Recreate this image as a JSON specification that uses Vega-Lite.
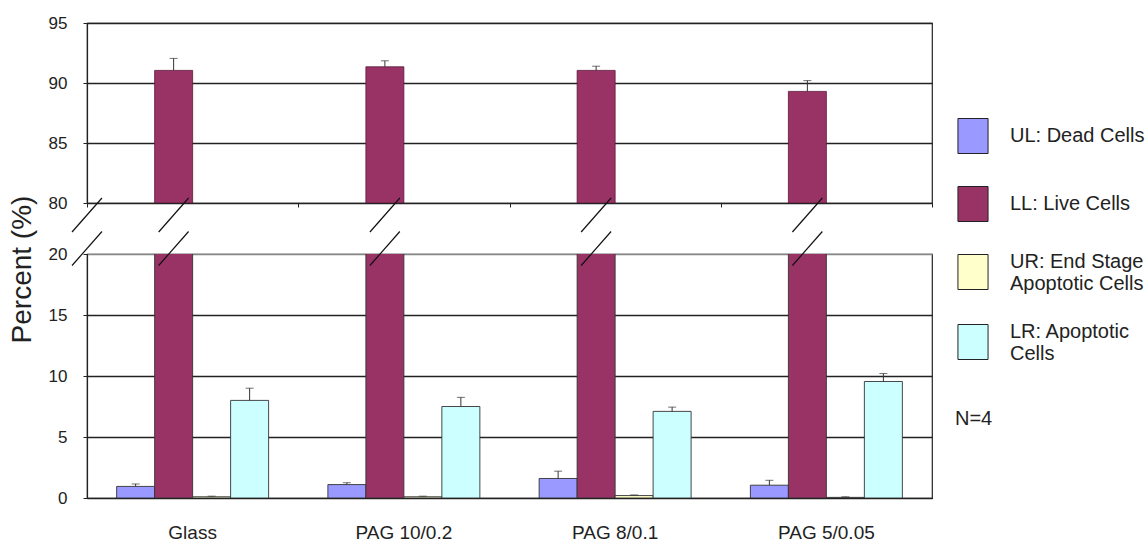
{
  "$schema": "https://vega.github.io/schema/vega-lite/v6.json",
  "padding": {"top": 13, "left": 7, "right": 0, "bottom": 0},
  "background": "white",
  "bounds": "flush",
  "spacing": 51,
  "config": {
    "font": "Liberation Sans",
    "view": {"stroke": "#222", "strokeWidth": 1.2},
    "axis": {"labelFont": "Liberation Sans", "labelFontSize": 17, "labelColor": "#222", "titleFont": "Liberation Sans", "titleFontWeight": "normal", "titleColor": "#222", "domainColor": "#222", "tickColor": "#222", "domainWidth": 1.2}
  },
  "datasets": {
    "bars": [
      {"group": "Glass", "series": "UL: Dead Cells", "value": 0.95, "upper": 1.15},
      {"group": "Glass", "series": "LL: Live Cells", "value": 91.05, "upper": 92.05},
      {"group": "Glass", "series": "UR: End Stage Apoptotic Cells", "value": 0.1, "upper": 0.15},
      {"group": "Glass", "series": "LR: Apoptotic Cells", "value": 8.0, "upper": 9.0},
      {"group": "PAG 10/0.2", "series": "UL: Dead Cells", "value": 1.1, "upper": 1.25},
      {"group": "PAG 10/0.2", "series": "LL: Live Cells", "value": 91.35, "upper": 91.85},
      {"group": "PAG 10/0.2", "series": "UR: End Stage Apoptotic Cells", "value": 0.1, "upper": 0.15},
      {"group": "PAG 10/0.2", "series": "LR: Apoptotic Cells", "value": 7.5, "upper": 8.25},
      {"group": "PAG 8/0.1", "series": "UL: Dead Cells", "value": 1.6, "upper": 2.2},
      {"group": "PAG 8/0.1", "series": "LL: Live Cells", "value": 91.05, "upper": 91.4},
      {"group": "PAG 8/0.1", "series": "UR: End Stage Apoptotic Cells", "value": 0.2, "upper": 0.25},
      {"group": "PAG 8/0.1", "series": "LR: Apoptotic Cells", "value": 7.1, "upper": 7.45},
      {"group": "PAG 5/0.05", "series": "UL: Dead Cells", "value": 1.05, "upper": 1.45},
      {"group": "PAG 5/0.05", "series": "LL: Live Cells", "value": 89.3, "upper": 90.2},
      {"group": "PAG 5/0.05", "series": "UR: End Stage Apoptotic Cells", "value": 0.05, "upper": 0.1},
      {"group": "PAG 5/0.05", "series": "LR: Apoptotic Cells", "value": 9.55, "upper": 10.2}
    ]
  },
  "vconcat": [
    {
      "width": 845,
      "height": 180,
      "data": {"name": "bars"},
      "transform": [{"filter": "datum.series == 'LL: Live Cells'"}],
      "encoding": {
        "x": {"field": "group", "type": "nominal", "sort": null, "scale": {"paddingInner": 0, "paddingOuter": 0}, "axis": {"title": null, "labels": false, "ticks": true, "tickBand": "extent", "tickSize": 4, "domain": false, "grid": false}},
        "xOffset": {"field": "series", "type": "nominal", "scale": {"domain": ["UL: Dead Cells", "LL: Live Cells", "UR: End Stage Apoptotic Cells", "LR: Apoptotic Cells"], "paddingInner": 0, "paddingOuter": 0.78}}
      },
      "layer": [
        {
          "mark": {"type": "bar", "clip": true, "stroke": "#5a1838", "strokeWidth": 0.8},
          "encoding": {
            "y": {"field": "value", "type": "quantitative", "scale": {"domain": [80, 95], "zero": false, "nice": false}, "axis": {"values": [80, 85, 90, 95], "grid": true, "gridColor": "#222", "gridWidth": 1.3, "tickSize": 4, "labelPadding": 16, "title": null}},
            "y2": {"datum": 80},
            "color": {"field": "series", "type": "nominal", "scale": {"domain": ["UL: Dead Cells", "LL: Live Cells", "UR: End Stage Apoptotic Cells", "LR: Apoptotic Cells"], "range": ["#9999FF", "#993366", "#FFFFCC", "#CCFFFF"]},
              "legend": {"orient": "none", "legendX": 868, "legendY": 95, "padding": 0, "title": "N=4", "titleOrient": "bottom", "titleAnchor": "start", "titleFontSize": 20, "titleFontWeight": "normal", "titleFont": "Liberation Sans", "titleColor": "#222", "titlePadding": 45, "labelFontSize": 20, "labelFont": "Liberation Sans", "labelColor": "#222", "labelOffset": 19, "symbolType": "M-0.86,-1H0.86V1H-0.86Z", "symbolSize": 1225, "symbolStrokeColor": "#222", "symbolStrokeWidth": 1, "rowPadding": 28, "labelLimit": 200, "labelExpr": "datum.label == 'UR: End Stage Apoptotic Cells' ? ['UR: End Stage', 'Apoptotic Cells'] : datum.label == 'LR: Apoptotic Cells' ? ['LR: Apoptotic', 'Cells'] : datum.label",
                "encode": {"labels": {"update": {"dy": {"signal": "indexof(datum.value, 'Apoptotic') >= 0 ? -10 : 0"}}}}}}
          }
        },
        {
          "mark": {"type": "rule", "color": "#333", "strokeWidth": 1},
          "encoding": {"y": {"field": "value", "type": "quantitative"}, "y2": {"field": "upper"}}
        },
        {
          "mark": {"type": "tick", "orient": "horizontal", "size": 8, "thickness": 1, "color": "#333"},
          "encoding": {"y": {"field": "upper", "type": "quantitative"}}
        },
        {
          "mark": {"type": "point", "shape": "M-0.88,1L0.88,-1", "filled": false, "stroke": "#111", "strokeWidth": 1.2, "size": 1156, "opacity": 1, "dx": -5},
          "encoding": {"y": {"datum": 79}}
        },
        {
          "transform": [{"filter": "datum.group == 'Glass'"}],
          "mark": {"type": "point", "shape": "M-0.88,1L0.88,-1", "filled": false, "stroke": "#111", "strokeWidth": 1.2, "size": 1156, "opacity": 1, "dx": 2},
          "encoding": {
            "x": {"field": "group", "type": "nominal", "sort": null, "bandPosition": 0},
            "xOffset": {"value": 0},
            "y": {"datum": 79}
          }
        }
      ]
    },
    {
      "width": 845,
      "height": 244,
      "data": {"name": "bars"},
      "encoding": {
        "x": {"field": "group", "type": "nominal", "sort": null, "scale": {"paddingInner": 0, "paddingOuter": 0}, "axis": {"title": null, "ticks": false, "labelPadding": 25, "labelAngle": 0, "labelFontSize": 19, "domain": true}},
        "xOffset": {"field": "series", "type": "nominal", "scale": {"domain": ["UL: Dead Cells", "LL: Live Cells", "UR: End Stage Apoptotic Cells", "LR: Apoptotic Cells"], "paddingInner": 0, "paddingOuter": 0.78}}
      },
      "layer": [
        {
          "mark": {"type": "bar", "clip": true, "stroke": "#333", "strokeWidth": 0.9},
          "encoding": {
            "y": {"field": "value", "type": "quantitative", "scale": {"domain": [0, 20], "nice": false}, "axis": {"values": [0, 5, 10, 15, 20], "grid": true, "gridColor": {"condition": {"test": "datum.value == 20", "value": "#888"}, "value": "#222"}, "gridWidth": 1.3, "tickSize": 4, "labelPadding": 16, "title": "Percent (%)", "titleFontSize": 28, "titleAngle": 270, "titleX": -65, "titleY": 15, "titleAlign": "center", "titleBaseline": "middle"}},
            "color": {"field": "series", "type": "nominal", "scale": {"domain": ["UL: Dead Cells", "LL: Live Cells", "UR: End Stage Apoptotic Cells", "LR: Apoptotic Cells"], "range": ["#9999FF", "#993366", "#FFFFCC", "#CCFFFF"]},
              "legend": {"orient": "none", "legendX": 868, "legendY": 95, "padding": 0, "title": "N=4", "titleOrient": "bottom", "titleAnchor": "start", "titleFontSize": 20, "titleFontWeight": "normal", "titleFont": "Liberation Sans", "titleColor": "#222", "titlePadding": 45, "labelFontSize": 20, "labelFont": "Liberation Sans", "labelColor": "#222", "labelOffset": 19, "symbolType": "M-0.86,-1H0.86V1H-0.86Z", "symbolSize": 1225, "symbolStrokeColor": "#222", "symbolStrokeWidth": 1, "rowPadding": 28, "labelLimit": 200, "labelExpr": "datum.label == 'UR: End Stage Apoptotic Cells' ? ['UR: End Stage', 'Apoptotic Cells'] : datum.label == 'LR: Apoptotic Cells' ? ['LR: Apoptotic', 'Cells'] : datum.label",
                "encode": {"labels": {"update": {"dy": {"signal": "indexof(datum.value, 'Apoptotic') >= 0 ? -10 : 0"}}}}}}
          }
        },
        {
          "transform": [{"filter": "datum.series != 'LL: Live Cells'"}],
          "mark": {"type": "rule", "color": "#333", "strokeWidth": 1},
          "encoding": {"y": {"field": "value", "type": "quantitative"}, "y2": {"field": "upper"}}
        },
        {
          "transform": [{"filter": "datum.series != 'LL: Live Cells'"}],
          "mark": {"type": "tick", "orient": "horizontal", "size": 8, "thickness": 1, "color": "#333"},
          "encoding": {"y": {"field": "upper", "type": "quantitative"}}
        },
        {
          "transform": [{"filter": "datum.series == 'LL: Live Cells'"}],
          "mark": {"type": "point", "shape": "M-0.88,1L0.88,-1", "filled": false, "stroke": "#111", "strokeWidth": 1.2, "size": 1156, "opacity": 1, "dx": -5},
          "encoding": {"y": {"datum": 20.45}}
        },
        {
          "transform": [{"filter": "datum.series == 'LL: Live Cells' && datum.group == 'Glass'"}],
          "mark": {"type": "point", "shape": "M-0.88,1L0.88,-1", "filled": false, "stroke": "#111", "strokeWidth": 1.2, "size": 1156, "opacity": 1, "dx": 2},
          "encoding": {
            "x": {"field": "group", "type": "nominal", "sort": null, "bandPosition": 0},
            "xOffset": {"value": 0},
            "y": {"datum": 20.45}
          }
        }
      ]
    }
  ],
  "resolve": {"scale": {"color": "shared"}}
}
